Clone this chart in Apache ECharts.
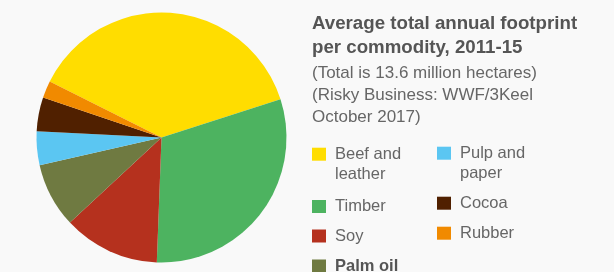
<!DOCTYPE html>
<html><head><meta charset="utf-8">
<script src="https://cdn.jsdelivr.net/npm/echarts@6/dist/echarts.min.js"></script>
<style>html,body{margin:0;padding:0;background:#f9f9f9}#c{width:614px;height:272px}</style>
</head><body><div id="c"></div>
<script>
// Average total annual footprint per commodity, 2011-15 (million hectares)
const categories = ['Beef and leather', 'Timber', 'Soy', 'Palm oil', 'Pulp and paper', 'Cocoa', 'Rubber'];
const values = [5.13, 4.16, 1.70, 1.14, 0.59, 0.60, 0.30];
const colors = ['#FFDD00', '#4DB360', '#B5311E', '#6F7A41', '#5BC6F2', '#502000', '#F18A00'];
const titleText = 'Average total annual footprint\nper commodity, 2011-15';
const subText = '(Total is 13.6 million hectares)\n(Risky Business: WWF/3Keel\nOctober 2017)';

const FONT = "'Liberation Sans', Arial, sans-serif";
const LH = 20.5;
// legend layout: [left, icon top] for each category
const legendPos = [[312, 147.7], [312, 200], [312, 229.5], [312, 259.5], [437, 146.7], [437, 196.7], [437, 226.7]];

const legends = categories.map((name, i) => {
  const twoLine = name.indexOf(' and ') >= 0;
  const offset = twoLine ? 6.5 - 1.5 * LH : 6.5 - LH / 2; // bounding-box top relative to icon top
  return {
    left: legendPos[i][0], top: legendPos[i][1] + offset, padding: 0,
    itemWidth: 14, itemHeight: 13, icon: 'rect', selectedMode: false,
    data: [{ name: name, textStyle: i === 3 ? { fontWeight: 'bold', color: '#555' } : {} }],
    // wrapped names: a blank leading line keeps the first text line level with the swatch
    formatter: n => n.indexOf(' and ') >= 0 ? ' \n' + n.replace(' and ', ' and\n') : n,
    textStyle: {
      fontFamily: FONT, fontSize: 16.5, color: '#666', lineHeight: LH,
      padding: [0, 0, 0, 4]
    }
  };
});

const chart = echarts.init(document.getElementById('c'), null, { renderer: 'canvas' });
chart.setOption({
  backgroundColor: '#f9f9f9',
  animation: false,
  color: colors,
  title: {
    text: titleText, subtext: subText,
    left: 312, top: 11.5, padding: 0, itemGap: 2.5,
    textStyle: { fontFamily: FONT, fontSize: 18.7, fontWeight: 'bold', color: '#555', lineHeight: 24 },
    subtextStyle: { fontFamily: FONT, fontSize: 17, color: '#666', lineHeight: 22 }
  },
  legend: legends,
  series: [{
    type: 'pie',
    center: [161.5, 137.5],
    radius: 125,
    startAngle: 153.4,
    clockwise: true,
    label: { show: false },
    labelLine: { show: false },
    emphasis: { disabled: true },
    itemStyle: { borderWidth: 0 },
    data: categories.map((c, i) => ({ name: c, value: values[i] }))
  }]
});
</script></body></html>
